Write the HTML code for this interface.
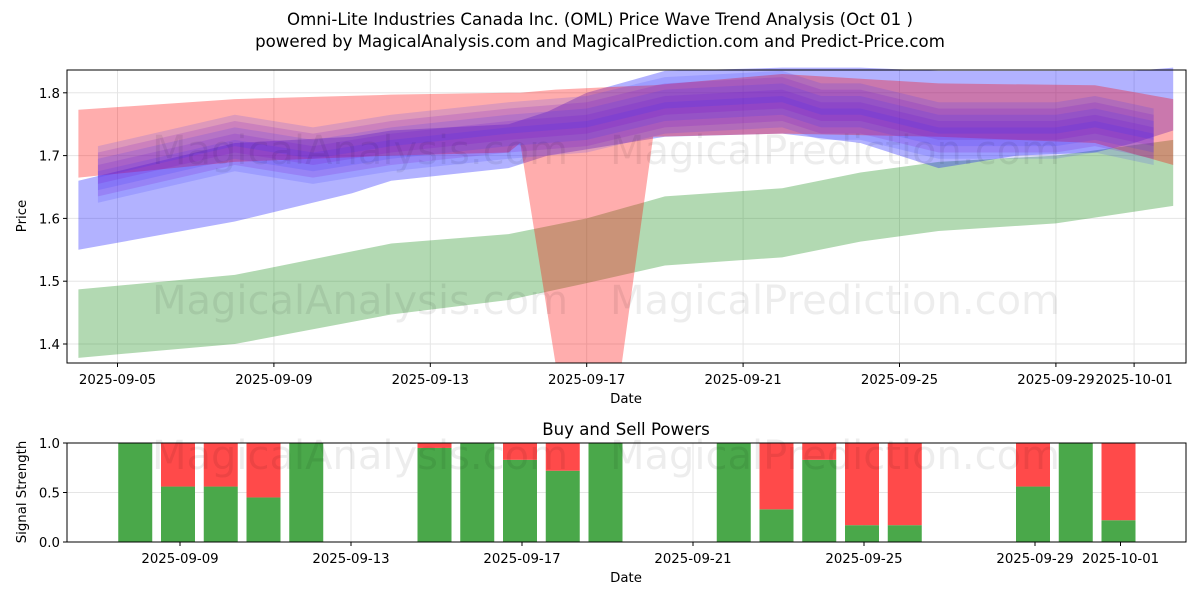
<!DOCTYPE html>
<html><head><meta charset="utf-8"><style>
body{margin:0;background:#fff;}
svg text{font-family:"DejaVu Sans","Liberation Sans",sans-serif;}
</style></head><body>
<svg id="chart" width="1200" height="600" xmlns="http://www.w3.org/2000/svg">
<text x="600" y="25" text-anchor="middle" font-size="16.6">Omni-Lite Industries Canada Inc. (OML) Price Wave Trend Analysis (Oct 01 )</text>
<text x="600" y="47" text-anchor="middle" font-size="16.6">powered by MagicalAnalysis.com and MagicalPrediction.com and Predict-Price.com</text>
<g id="topPlot"></g>
<g id="botPlot"></g>
</svg>
<script>
// days offset from 2025-09-05
const greenDays=[-1,3,7,10,12,14,17,19,21,24,27];
const greenHi=[1.487,1.51,1.56,1.575,1.60,1.635,1.648,1.673,1.69,1.70,1.725];
const greenLo=[1.378,1.40,1.447,1.47,1.497,1.525,1.538,1.563,1.58,1.592,1.62];
const redDays=[-1,3,7,10,10.3,11.2,12.9,13.7,17,21,25,27];
const redHi=[1.773,1.79,1.797,1.80,1.80,1.805,1.81,1.812,1.83,1.815,1.812,1.79];
const redLo=[1.665,1.69,1.70,1.705,1.72,1.37,1.37,1.73,1.735,1.73,1.72,1.685];
const blueDays=[-1,3,6,7,10,11,12,14,17,19,21,23,25,26,27];
const blueHi=[1.66,1.72,1.73,1.74,1.75,1.77,1.80,1.835,1.84,1.84,1.835,1.835,1.835,1.835,1.84];
const blueLo=[1.55,1.595,1.64,1.66,1.68,1.70,1.71,1.73,1.735,1.72,1.68,1.70,1.705,1.72,1.74];
const midDays=[-0.5,3,5,7,10,12,14,17,18,19,21,24,25,26.5];
const midVals=[1.67,1.72,1.70,1.72,1.74,1.75,1.78,1.79,1.77,1.77,1.74,1.74,1.75,1.73];
const barDays=[3,4,5,6,7,10,11,12,13,14,17,18,19,20,21,24,25,26];
const buyVals=[1,0.56,0.56,0.45,1,0.95,1,0.83,0.72,1,1,0.33,0.83,0.17,0.17,0.56,1,0.22];
const topTicks=[1.4,1.5,1.6,1.7,1.8];
const xTickDays=[0,4,8,12,16,20,24,26];
const xTickLabels=["2025-09-05","2025-09-09","2025-09-13","2025-09-17","2025-09-21","2025-09-25","2025-09-29","2025-10-01"];
const botXDays=[4,8,12,16,20,24,26];
const botXLabels=["2025-09-09","2025-09-13","2025-09-17","2025-09-21","2025-09-25","2025-09-29","2025-10-01"];
const NS="http://www.w3.org/2000/svg";
function mk(p,t,a){const e=document.createElementNS(NS,t);for(const k in a)e.setAttribute(k,a[k]);p.appendChild(e);return e;}
const L=67,R=1186,T=70,B=363;
const xs=d=>117.5+39.1*d, ys=v=>344-(v-1.4)*628;
const xb=d=>180+42.75*(d-4), yb=v=>542-v*99;
const FS=13.3;
const topG=document.getElementById('topPlot'), botG=document.getElementById('botPlot');
topTicks.forEach(v=>{mk(topG,'line',{x1:L,x2:R,y1:ys(v),y2:ys(v),stroke:'#e5e5e5'});});
xTickDays.forEach(d=>{mk(topG,'line',{x1:xs(d),x2:xs(d),y1:T,y2:B,stroke:'#e5e5e5'});});
function band(days,hi,lo,col,op,name,dy){
  let pts=days.map((d,i)=>xs(d)+','+ys(hi[i]+(dy||0)));
  for(let i=days.length-1;i>=0;i--)pts.push(xs(days[i])+','+ys(lo[i]+(dy||0)));
  const p=mk(topG,'polygon',{points:pts.join(' '),fill:col,'fill-opacity':op});
  
  
}
band(greenDays,greenHi,greenLo,'#008000',0.3,'green-band');
band(blueDays,blueHi,blueLo,'#0000ff',0.3,'blue-band');
band(redDays,redHi,redLo,'#ff0000',0.32,'red-band');
const offs=[-0.02,-0.01,0,0.01,0.02];
offs.forEach((o,k)=>{
  const hi=midVals.map(v=>v+0.025), lo=midVals.map(v=>v-0.025);
  band(midDays,hi,lo,k%2?'#7a00c8':'#3030ff',0.16,'trend-band-'+k,o);
});
[[360,150],[835,150],[360,300],[835,300]].forEach((p,i)=>{const t=mk(topG,'text',{x:p[0],y:p[1]+14,'text-anchor':'middle','font-size':40,fill:'#000','fill-opacity':0.07});t.textContent=i%2?'MagicalPrediction.com':'MagicalAnalysis.com';});
mk(topG,'rect',{x:L,y:T,width:R-L,height:B-T,fill:'none',stroke:'#000'});
topTicks.forEach(v=>{mk(topG,'line',{x1:L-4,x2:L,y1:ys(v),y2:ys(v),stroke:'#000'});const t=mk(topG,'text',{x:L-7,y:ys(v)+5,'text-anchor':'end','font-size':FS});t.textContent=v.toFixed(1);});
xTickDays.forEach((d,i)=>{mk(topG,'line',{x1:xs(d),x2:xs(d),y1:B,y2:B+4,stroke:'#000'});const t=mk(topG,'text',{x:xs(d),y:B+21,'text-anchor':'middle','font-size':FS});t.textContent=xTickLabels[i];});
let t=mk(topG,'text',{x:626,y:403,'text-anchor':'middle','font-size':FS});t.textContent='Date';
t=mk(topG,'text',{x:0,y:0,'text-anchor':'middle','font-size':FS,transform:'translate(26,216) rotate(-90)'});t.textContent='Price';
const BT=443,BB=542;
[0,0.5,1].forEach(v=>{mk(botG,'line',{x1:L,x2:R,y1:yb(v),y2:yb(v),stroke:'#e5e5e5'});});
botXDays.forEach(d=>mk(botG,'line',{x1:xb(d),x2:xb(d),y1:BT,y2:BB,stroke:'#e5e5e5'}));
barDays.forEach((d,i)=>{
  const x=xb(d)-19,v=buyVals[i];
  const g=mk(botG,'rect',{x:x,y:yb(v),width:34,height:yb(0)-yb(v),fill:'#4aa84a'});
  
  
  if(v<1){const r=mk(botG,'rect',{x:x,y:yb(1),width:34,height:yb(v)-yb(1),fill:'#ff4a4a'});
  
  }
});
[[360,455],[835,455]].forEach((p,i)=>{const w=mk(botG,'text',{x:p[0],y:p[1]+14,'text-anchor':'middle','font-size':40,fill:'#000','fill-opacity':0.07});w.textContent=i?'MagicalPrediction.com':'MagicalAnalysis.com';});
mk(botG,'rect',{x:L,y:BT,width:R-L,height:BB-BT,fill:'none',stroke:'#000'});
[0,0.5,1].forEach(v=>{mk(botG,'line',{x1:L-4,x2:L,y1:yb(v),y2:yb(v),stroke:'#000'});const s=mk(botG,'text',{x:L-7,y:yb(v)+5,'text-anchor':'end','font-size':FS});s.textContent=v.toFixed(1);});
botXDays.forEach((d,i)=>{mk(botG,'line',{x1:xb(d),x2:xb(d),y1:BB,y2:BB+4,stroke:'#000'});const s=mk(botG,'text',{x:xb(d),y:BB+21,'text-anchor':'middle','font-size':FS});s.textContent=botXLabels[i];});
t=mk(botG,'text',{x:626,y:435,'text-anchor':'middle','font-size':16.6});t.textContent='Buy and Sell Powers';
t=mk(botG,'text',{x:626,y:582,'text-anchor':'middle','font-size':FS});t.textContent='Date';
t=mk(botG,'text',{x:0,y:0,'text-anchor':'middle','font-size':FS,transform:'translate(26,492) rotate(-90)'});t.textContent='Signal Strength';
</script>
</body></html>
